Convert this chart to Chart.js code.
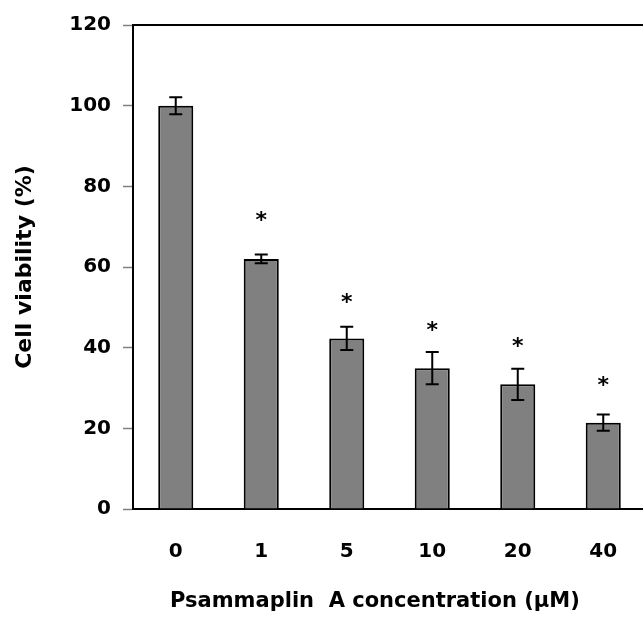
<!DOCTYPE html>
<html>
<head>
<meta charset="utf-8">
<script src="https://cdn.jsdelivr.net/npm/chart.js@4/dist/chart.umd.min.js"></script>
<style>
  html, body { margin: 0; padding: 0; background: #fff; overflow: hidden; }
  canvas { display: block; }
</style>
</head>
<body>
<canvas id="graphCanvas" width="646" height="617"></canvas>
<script>
// values
const doses = ['0', '1', '5', '10', '20', '40']
const viability = [100, 62, 42.3, 34.9, 30.9, 21.4]
const errors = [2.1, 1.1, 2.9, 4, 3.9, 2]
const starAt = [null, 72.2, 51.8, 44.8, 40.8, 31.2]

const FONT = 'DejaVu Sans'

// error bars + significance stars, placed with the chart's own scales
const extras = {
    id: 'extras',
    afterDatasetsDraw(chart) {
        const ctx = chart.ctx
        const y = chart.scales.y
        const bars = chart.getDatasetMeta(0).data
        ctx.save()
        ctx.strokeStyle = '#000'
        ctx.lineWidth = 2
        for (let i = 0; i < bars.length; i++) {
            const x = bars[i].x
            const top = y.getPixelForValue(viability[i] + errors[i])
            const bot = y.getPixelForValue(viability[i] - errors[i])
            ctx.beginPath()
            ctx.moveTo(x, top); ctx.lineTo(x, bot)
            ctx.moveTo(x - 6.5, top); ctx.lineTo(x + 6.5, top)
            ctx.moveTo(x - 6.5, bot); ctx.lineTo(x + 6.5, bot)
            ctx.stroke()
            if (starAt[i] !== null) {
                ctx.fillStyle = '#000'
                ctx.font = 'bold 22px "' + FONT + '"'
                ctx.textAlign = 'center'
                ctx.textBaseline = 'alphabetic'
                ctx.fillText('*', x, y.getPixelForValue(starAt[i]) + 9)
            }
        }
        ctx.restore()
    }
}

new Chart(document.getElementById('graphCanvas'), {
    type: 'bar',
    data: {
        labels: doses,
        datasets: [{
            data: viability,
            backgroundColor: '#808080',
            borderColor: '#000',
            borderWidth: 2,
            barPercentage: 0.41,
            categoryPercentage: 1
        }]
    },
    options: {
        responsive: false,
        animation: false,
        devicePixelRatio: 1,
        layout: { padding: 0 },
        plugins: { legend: { display: false }, tooltip: { enabled: false } },
        scales: {
            x: {
                position: 'bottom',
                grid: { display: false },
                border: { display: true, color: '#000', width: 2 },
                ticks: { color: '#000', font: { family: FONT, size: 20, weight: 'bold' }, padding: 23 },
                title: {
                    display: true,
                    text: 'Psammaplin  A concentration (µM)    ',
                    color: '#000',
                    font: { family: FONT, size: 21, weight: 'bold' },
                    padding: { top: 0, bottom: 3 }
                },
                afterFit(scale) { scale.height = 108 }
            },
            xTop: {
                position: 'top',
                grid: { display: false },
                ticks: { display: false },
                border: { display: true, color: '#000', width: 2 },
                afterFit(scale) { scale.height = 25 }
            },
            y: {
                min: 0,
                max: 120,
                ticks: { stepSize: 20, color: '#000', font: { family: FONT, size: 20, weight: 'bold' }, padding: 12 },
                grid: { drawOnChartArea: false, tickLength: 10, tickColor: '#808080', tickWidth: 1.5 },
                border: { display: true, color: '#000', width: 2 },
                title: {
                    display: true,
                    text: 'Cell viability (%)',
                    color: '#000',
                    font: { family: FONT, size: 22, weight: 'bold' },
                    padding: { top: 12, bottom: 0 }
                },
                afterFit(scale) { scale.width = 133 }
            }
        }
    },
    plugins: [extras]
})
</script>
</body>
</html>
